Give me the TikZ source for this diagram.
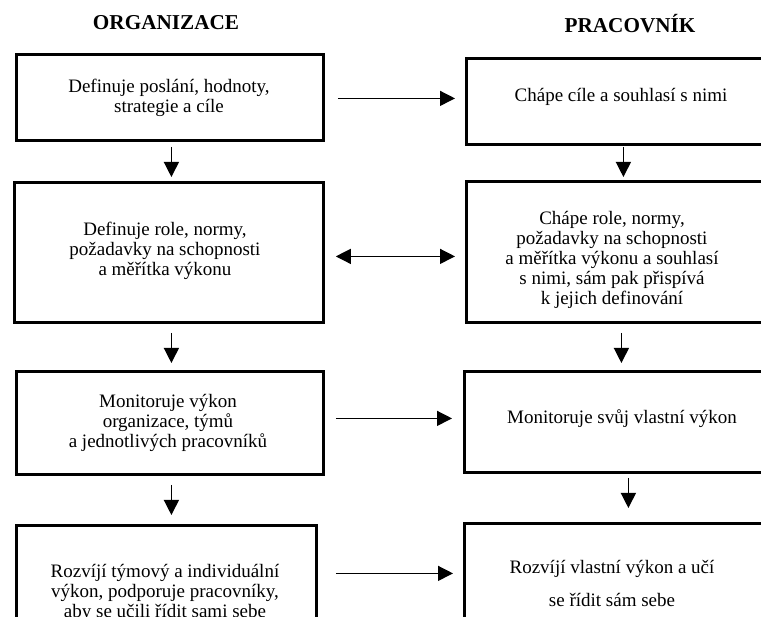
\documentclass[tikz,border=0pt]{standalone}
\usepackage{fontspec}
\setmainfont{Liberation Serif}
\usetikzlibrary{arrows.meta}
\tikzset{
  box/.style={draw, line width=2.8pt, rectangle, anchor=north west, inner sep=0pt},
  txt/.style={align=center, inner sep=0pt, font=\fontsize{19}{20}\selectfont},
  head/.style={inner sep=0pt, font=\fontsize{21.2}{24}\selectfont\bfseries},
  arr/.style={line width=1.3pt, -{Triangle[length=15pt,width=15pt]}},
  darr/.style={line width=1.3pt, {Triangle[length=15pt,width=15pt]}-{Triangle[length=15pt,width=15pt]}}
}
\begin{document}
\begin{tikzpicture}[x=1pt, y=-1pt]
\useasboundingbox (0,0) rectangle (761,617);
\clip (0,0) rectangle (761,617);
\fill[white] (0,0) rectangle (761,617);

% column headings
\node[head] (hOrg) at (166,23) {ORGANIZACE};
\node[head] (hPrac) at (630,24) {PRACOVNÍK};

% left column: organisation
\node[box, minimum width=307pt, minimum height=86pt]  (L1) at (15,53)  {};
\node[box, minimum width=309pt, minimum height=140pt] (L2) at (13,181) {};
\node[box, minimum width=307pt, minimum height=103pt] (L3) at (15,370) {};
\node[box, minimum width=300pt, minimum height=116pt] (L4) at (15,524) {};

% right column: employee (runs past the right edge)
\node[box, minimum width=315pt, minimum height=86pt]  (R1) at (465,57)  {};
\node[box, minimum width=315pt, minimum height=141pt] (R2) at (465,180) {};
\node[box, minimum width=317pt, minimum height=101pt] (R3) at (463,370) {};
\node[box, minimum width=317pt, minimum height=118pt] (R4) at (463,522) {};

% box texts
\node[txt] (tL1) at (169,98) {Definuje poslání, hodnoty,\\strategie a cíle};
\node[txt] (tL2) at (165,251) {Definuje role, normy,\\požadavky na schopnosti\\a měřítka výkonu};
\node[txt] (tL3) at (168,423) {Monitoruje výkon\\organizace, týmů\\a jednotlivých pracovníků};
\node[txt] (tL4) at (165,593) {Rozvíjí týmový a individuální\\výkon, podporuje pracovníky,\\aby se učili řídit sami sebe};

\node[txt] (tR1) at (621,97) {Chápe cíle a souhlasí s nimi};
\node[txt] (tR2) at (612,260) {Chápe role, normy,\\požadavky na schopnosti\\a měřítka výkonu a souhlasí\\s nimi, sám pak přispívá\\k jejich definování};
\node[txt] (tR3) at (622,419) {Monitoruje svůj vlastní výkon};
\node[txt] (tR4a) at (612,569) {Rozvíjí vlastní výkon a učí};
\node[txt] (tR4b) at (612,600) {se řídit sám sebe};

% horizontal connectors
\draw[arr]  ([xshift=13pt,yshift=-1pt]L1.east) -- ([xshift=-10pt,yshift=3pt]R1.west);
\draw[darr] ([xshift=11pt,yshift=-4pt]L2.east) -- ([xshift=-10pt,yshift=-4.5pt]R2.west);
\draw[arr]  ([xshift=11pt,yshift=4.5pt]L3.east) -- ([xshift=-11pt,yshift=3.5pt]R3.west);
\draw[arr]  ([xshift=18pt,yshift=10pt]L4.east) -- ([xshift=-10pt,yshift=9pt]R4.west);

% vertical connectors
\draw[arr] ([xshift=1.5pt,yshift=-5pt]L1.south) -- ([xshift=2.5pt,yshift=4pt]L2.north);
\draw[arr] ([xshift=2.5pt,yshift=-9pt]L2.south) -- ([xshift=1.5pt,yshift=7pt]L3.north);
\draw[arr] ([xshift=1.5pt,yshift=-9pt]L3.south) -- ([xshift=5pt,yshift=9pt]L4.north);

\draw[arr] ([xshift=-0.5pt,yshift=-1pt]R1.south) -- ([xshift=-0.5pt,yshift=3pt]R2.north);
\draw[arr] ([xshift=-2.5pt,yshift=-9pt]R2.south) -- ([xshift=-1.5pt,yshift=7pt]R3.north);
\draw[arr] ([xshift=5.5pt,yshift=-4pt]R3.south) -- ([xshift=5.5pt,yshift=14pt]R4.north);
\end{tikzpicture}
\end{document}
